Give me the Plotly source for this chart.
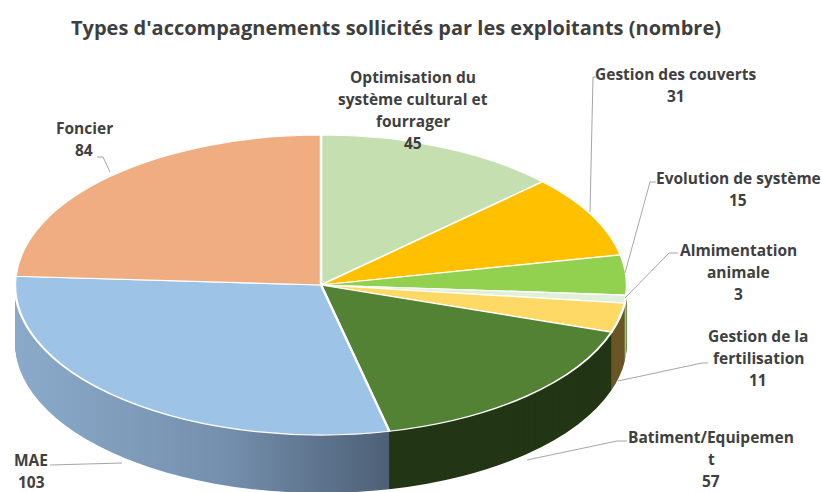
import plotly.graph_objects as go

# ---- data ----
labels = ["Optimisation du système cultural et fourrager", "Gestion des couverts",
          "Evolution de système", "Almimentation animale", "Gestion de la fertilisation",
          "Batiment/Equipement", "MAE", "Foncier"]
values = [45, 31, 15, 3, 11, 57, 103, 84]
label_lines = [
    ["Optimisation du", "système cultural et", "fourrager"],
    ["Gestion des couverts"],
    ["Evolution de système"],
    ["Almimentation", "animale"],
    ["Gestion de la", "fertilisation"],
    ["Batiment/Equipemen", "t"],
    ["MAE"],
    ["Foncier"],
]
title = "Types d'accompagnements sollicités par les exploitants (nombre)"

# ---- styles ----
top_colors = ["#C5DFB1", "#FFC000", "#92D050", "#E2EFDA", "#FFD966", "#548235", "#9DC3E6", "#F0AD82"]
side_colors = ["#8FA882", "#B38700", "#5E8A2E", "#A9B8A0", "#6B5626", "#233616", "#7393B3", "#B07A58"]
W, H = 822, 492
CX, CY, RB, RA = 321, 285, 150, 306   # pixel centre, vertical and horizontal radius
DEPTH = 58
TXT = "#404040"
FONT = "Open Sans"

# label anchor positions (pixel): centre x, first line y, line step
label_pos = [(413, 77), (676, 74), (738, 178), (738, 250), (758, 336), (711, 437), (31, 460), (84, 128)]
LSTEP = 22
leaders = [
    None,
    [(597, 77), (593, 77), (590, 212)],
    [(656, 182), (650, 182), (625, 273)],
    [(678, 253), (669, 253), (625, 298)],
    [(708, 363), (702, 363), (618, 381)],
    [(627, 441), (617, 441), (527, 460)],
    [(50, 465), (122, 463)],
    [(97, 157), (103, 157), (110, 172)],
]

px = lambda x: x / W
py = lambda y: 1 - y / H

dom_x = [px(CX - RB), px(CX + RB)]
dom_y = [py(CY + RB), py(CY - RB)]

fig = go.Figure()
fig.add_trace(go.Pie(labels=labels, values=values, sort=False, direction="clockwise", rotation=0,
                     marker=dict(colors=side_colors, line=dict(width=0)),
                     textinfo="none", hoverinfo="none", showlegend=False,
                     domain=dict(x=dom_x, y=dom_y)))
fig.add_trace(go.Pie(labels=labels, values=values, sort=False, direction="clockwise", rotation=0,
                     marker=dict(colors=top_colors, line=dict(color="white", width=1.2)),
                     textinfo="none", hoverinfo="none", showlegend=False,
                     domain=dict(x=dom_x, y=dom_y)))

annotations = []
for lines, v, (x, y0) in zip(label_lines, values, label_pos):
    for i, t in enumerate(lines + [str(v)]):
        annotations.append(dict(x=px(x), y=py(y0 + i * LSTEP), xref="paper", yref="paper",
                                text="<b>%s</b>" % t, showarrow=False, xanchor="center",
                                yanchor="middle", font=dict(family=FONT, size=15.5, color=TXT)))
annotations.append(dict(x=px(396), y=py(28), xref="paper", yref="paper", text="<b>%s</b>" % title,
                        showarrow=False, xanchor="center", yanchor="middle",
                        font=dict(family=FONT, size=20, color="#3F3F3F")))

shapes = []
for pts in leaders:
    if not pts:
        continue
    for (x0, y0), (x1, y1) in zip(pts[:-1], pts[1:]):
        shapes.append(dict(type="line", xref="paper", yref="paper", x0=px(x0), y0=py(y0),
                           x1=px(x1), y1=py(y1), line=dict(color="#A6A6A6", width=1)))

fig.update_layout(width=W, height=H, margin=dict(l=0, r=0, t=0, b=0),
                  paper_bgcolor="white", plot_bgcolor="white",
                  annotations=annotations, shapes=shapes)

post = """
document.body.style.margin = '0';
var gd = document.getElementById('{plot_id}');
var traces = gd.querySelectorAll('.pielayer .trace');
var side = traces[0], topT = traces[1];
var bb = topT.getBBox();
var cx = bb.x + bb.width/2, cy = bb.y + bb.height/2;
var sx = %f, depth = %d;
function tf(dy){ return 'translate(' + cx + ',' + (cy+dy) + ') scale(' + sx + ',1) translate(' + (-cx) + ',' + (-cy) + ')'; }
var svgns = 'http://www.w3.org/2000/svg';
var defs = gd.querySelector('svg.main-svg defs');
var g = document.createElementNS(svgns, 'linearGradient');
g.setAttribute('id', 'maeGrad'); g.setAttribute('x1','0'); g.setAttribute('x2','1'); g.setAttribute('y1','0'); g.setAttribute('y2','0');
[['0','#8BAACA'],['0.55','#7590AE'],['1','#4E6077']].forEach(function(s){
  var st = document.createElementNS(svgns,'stop'); st.setAttribute('offset', s[0]); st.setAttribute('stop-color', s[1]); g.appendChild(st);
});
defs.appendChild(g);
function fix(node){
  var ps = node.querySelectorAll('path.surface');
  if (ps.length > 6) { ps[6].style.fill = 'url(#maeGrad)'; }
  ps.forEach(function(p){ p.style.strokeWidth = '0'; });
}
fix(side);
side.setAttribute('transform', tf(depth));
for (var d = depth - 1; d >= 0; d -= 1) {
  var c = side.cloneNode(true);
  c.setAttribute('transform', tf(d));
  side.parentNode.insertBefore(c, topT);
}
topT.setAttribute('transform', tf(0));
""" % (RA / RB, DEPTH)

fig.write_html("out.html", config={"staticPlot": True}, post_script=post)
